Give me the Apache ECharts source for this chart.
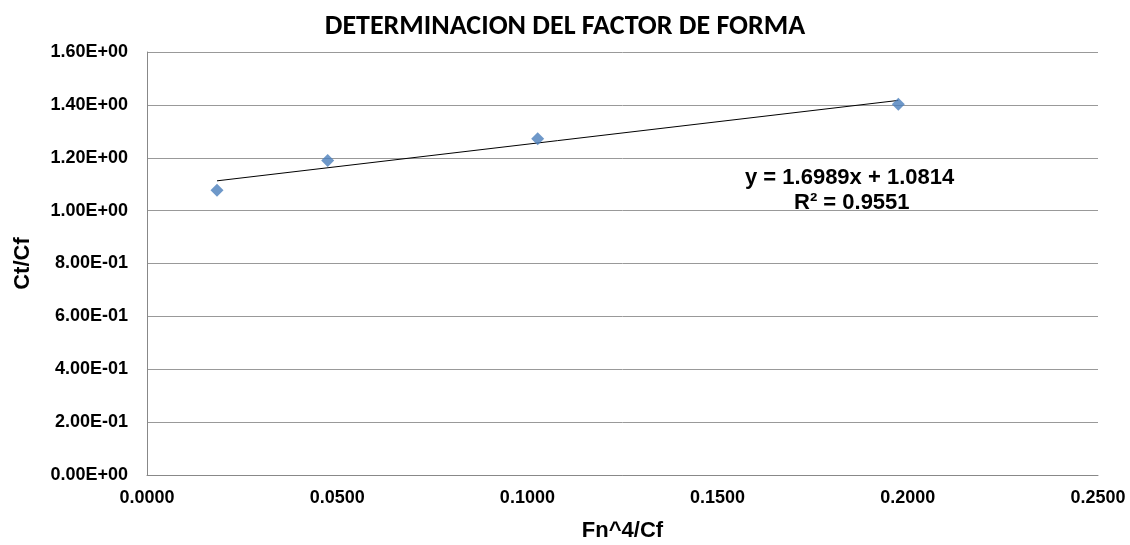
<!DOCTYPE html>
<html>
<head>
<meta charset="utf-8">
<script src="https://cdn.jsdelivr.net/npm/echarts@6/dist/echarts.min.js"></script>
<style>
  html, body { margin: 0; padding: 0; background: #fff; }
  #chart { width: 1130px; height: 545px; }
</style>
</head>
<body>
<div id="chart"></div>
<script>
// puntos medidos (Fn^4/Cf, Ct/Cf)
const xValues = [0.0184, 0.0475, 0.1027, 0.1975];
const yValues = [1.077, 1.190, 1.272, 1.402];

// linea de tendencia, extremos
const trendX = [0.0184, 0.1975];
const trendY = [1.1127, 1.4169];

const eqText = 'y = 1.6989x + 1.0814';
const r2Text = 'R² = 0.9551';

const sans = '"Liberation Sans", Arial, sans-serif';
const titleFont = 'Carlito, Calibri, "Liberation Sans", sans-serif';

const myChart = echarts.init(document.getElementById('chart'));

const option = {
  animation: false,
  title: {
    text: 'DETERMINACION DEL FACTOR DE FORMA',
    left: 'center',
    top: 8,
    textStyle: { fontFamily: titleFont, fontSize: 28, fontWeight: 'bold', color: '#000' },
  },
  grid: { left: 147, right: 32, top: 52, bottom: 70, containLabel: false, outerBoundsMode: 'none' },
  xAxis: {
    type: 'value',
    min: 0,
    max: 0.25,
    interval: 0.05,
    name: 'Fn^4/Cf',
    nameLocation: 'middle',
    nameGap: 45,
    nameMoveOverlap: false,
    nameTextStyle: { fontFamily: sans, fontSize: 22, fontWeight: 'bold', color: '#000' },
    axisLine: { lineStyle: { color: '#888' } },
    axisTick: { show: false },
    axisLabel: {
      color: '#000',
      fontFamily: sans,
      fontSize: 18,
      fontWeight: 'bold',
      margin: 14,
      formatter: v => v.toFixed(4),
    },
    splitLine: { show: false },
  },
  yAxis: {
    type: 'value',
    min: 0,
    max: 1.6,
    interval: 0.2,
    name: 'Ct/Cf',
    nameLocation: 'middle',
    nameGap: 113,
    nameMoveOverlap: false,
    nameTextStyle: { fontFamily: sans, fontSize: 22, fontWeight: 'bold', color: '#000' },
    axisLine: { show: true, lineStyle: { color: '#888' } },
    axisTick: { show: false },
    axisLabel: {
      color: '#000',
      fontFamily: sans,
      fontSize: 18,
      fontWeight: 'bold',
      margin: 19,
      align: 'right',
      formatter: v => v.toExponential(2).toUpperCase().replace(/E([+-])(\d)$/, 'E$10$2'),
    },
    splitLine: { lineStyle: { color: '#999', width: 1 } },
  },
  series: [
    {
      name: 'tendencia',
      type: 'line',
      data: trendX.map((x, i) => [x, trendY[i]]),
      symbol: 'none',
      lineStyle: { color: '#000', width: 1 },
      z: 2,
    },
    {
      name: 'datos',
      type: 'scatter',
      data: xValues.map((x, i) => [x, yValues[i]]),
      symbol: 'diamond',
      symbolSize: 13,
      itemStyle: { color: '#4a7ebb' },
      z: 3,
    },
  ],
  graphic: [
    {
      type: 'text',
      left: 745,
      top: 167,
      style: { text: eqText, fontFamily: sans, fontSize: 22, fontWeight: 'bold', fill: '#000' },
    },
    {
      type: 'text',
      left: 794,
      top: 192,
      style: { text: r2Text, fontFamily: sans, fontSize: 22, fontWeight: 'bold', fill: '#000' },
    },
  ],
};

myChart.setOption(option);
window.addEventListener('resize', () => myChart.resize());
</script>
</body>
</html>
